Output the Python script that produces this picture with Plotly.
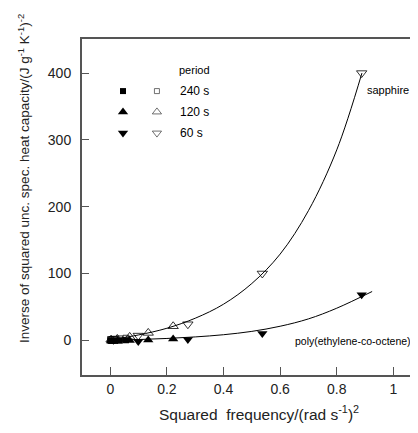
import plotly.graph_objects as go

# ---- data ----
x240 = [0.000685, 0.00617, 0.0171, 0.0336, 0.0555]
x120 = [0.00274, 0.0247, 0.0685, 0.134, 0.222]
x60 = [0.011, 0.0987, 0.274, 0.537, 0.888]

sapph240 = [1, 1, 1.5, 2, 3]
sapph120 = [1, 2, 5, 11, 21]
sapph60 = [1.5, 7, 24, 100, 400]

poly240 = [-1, -1, -1, -0.5, 0]
poly120 = [-1, -1, -0.5, 0.5, 2]
poly60 = [0, -2, 1, 10, 68]

# fitted curves
fit_sapph_x = [0, 0.1, 0.2, 0.3, 0.4, 0.5, 0.6, 0.7, 0.8, 0.889]
fit_sapph_y = [1, 8, 18, 33, 54, 85, 129, 194, 285, 400]
fit_poly_x = [0, 0.1, 0.2, 0.3, 0.4, 0.5, 0.6, 0.7, 0.8, 0.925]
fit_poly_y = [0, 1.1, 2.7, 5.0, 8.3, 13.3, 21, 32, 48, 73]

periods = ["240 s", "120 s", "60 s"]
filled_symbols = ["square", "triangle-up", "triangle-down"]
open_symbols = ["square-open", "triangle-up-open", "triangle-down-open"]

AXC = "#555555"
narrow = "Liberation Sans, Arial, sans-serif"
main = "Liberation Sans, Arial, sans-serif"

fig = go.Figure()

# curves
fig.add_trace(go.Scatter(x=fit_sapph_x, y=fit_sapph_y, mode="lines",
                         line=dict(color="black", width=1, shape="spline"),
                         showlegend=False, hoverinfo="skip"))
fig.add_trace(go.Scatter(x=fit_poly_x, y=fit_poly_y, mode="lines",
                         line=dict(color="black", width=1, shape="spline"),
                         showlegend=False, hoverinfo="skip"))

xs = [x240, x120, x60]
sap = [sapph240, sapph120, sapph60]
pol = [poly240, poly120, poly60]
for i in range(3):
    fsz = 6 if i == 0 else 9
    fig.add_trace(go.Scatter(x=xs[i], y=pol[i], mode="markers",
                             marker=dict(symbol=filled_symbols[i], size=fsz, color="black"),
                             showlegend=False))
    fig.add_trace(go.Scatter(x=xs[i], y=sap[i], mode="markers",
                             marker=dict(symbol=open_symbols[i], size=fsz, color="black",
                                         line=dict(width=0.8)),
                             showlegend=False))

# legend drawn on an overlay [0,1] axis
leg_y = [0.845, 0.783, 0.720]
for i in range(3):
    fsz = 6 if i == 0 else 9
    fig.add_trace(go.Scatter(x=[0.122], y=[leg_y[i]], xaxis="x2", yaxis="y2", mode="markers",
                             marker=dict(symbol=filled_symbols[i], size=fsz, color="black"),
                             showlegend=False, hoverinfo="skip"))
    fig.add_trace(go.Scatter(x=[0.223], y=[leg_y[i]], xaxis="x2", yaxis="y2", mode="markers",
                             marker=dict(symbol=open_symbols[i], size=fsz - 1, color="#333",
                                         line=dict(width=0.7)),
                             showlegend=False, hoverinfo="skip"))
    fig.add_annotation(xref="paper", yref="paper", x=0.286, y=leg_y[i], text=periods[i],
                       showarrow=False, xanchor="left", yanchor="middle",
                       font=dict(family=narrow, size=12, color="black"))

fig.add_annotation(xref="paper", yref="paper", x=0.336, y=0.908, text="period",
                   showarrow=False, xanchor="center", yanchor="middle",
                   font=dict(family=narrow, size=11, color="black"))
fig.add_annotation(xref="paper", yref="paper", x=0.842, y=0.848, text="sapphire",
                   showarrow=False, xanchor="left", yanchor="middle",
                   font=dict(family=narrow, size=11, color="black"))
fig.add_annotation(xref="paper", yref="paper", x=0.985, y=0.101,
                   text="poly(ethylene-co-octene)",
                   showarrow=False, xanchor="right", yanchor="middle",
                   font=dict(family=narrow, size=10.5, color="black"))

# axis titles
fig.add_annotation(xref="paper", yref="paper", x=-0.173, y=0.586,
                   text="Inverse of squared unc. spec. heat capacity/(J g<sup>-1</sup> K<sup>-1</sup>)<sup>-2</sup>",
                   showarrow=False, textangle=-90, xanchor="center", yanchor="middle",
                   font=dict(family=main, size=13.5, color="#222"))
fig.add_annotation(xref="paper", yref="paper", x=0.527, y=-0.113,
                   text="Squared  frequency/(rad s<sup>-1</sup>)<sup>2</sup>",
                   showarrow=False, xanchor="center", yanchor="middle",
                   font=dict(family=main, size=15.5, color="#222"))

# page body has an 8px margin, so the figure is 8px smaller and its margins 8px less
fig.update_layout(
    width=410, height=425,
    margin=dict(l=74, r=0, t=31, b=58),
    paper_bgcolor="white", plot_bgcolor="white",
    showlegend=False,
    xaxis=dict(range=[-0.1, 1.087], tickvals=[0, 0.2, 0.4, 0.6, 0.8, 1],
               ticktext=["0", "0.2", "0.4", "0.6", "0.8", "1"],
               ticks="inside", ticklen=8, tickcolor=AXC, tickwidth=1,
               showline=True, linecolor=AXC, linewidth=2, mirror=True,
               showgrid=False, zeroline=False,
               tickfont=dict(family=main, size=14, color="#222")),
    yaxis=dict(range=[-52, 451], tickvals=[0, 100, 200, 300, 400],
               ticks="inside", ticklen=7, tickcolor=AXC, tickwidth=1,
               showline=True, linecolor=AXC, linewidth=2,
               showgrid=False, zeroline=False, ticklabelstandoff=6,
               tickfont=dict(family=main, size=14, color="#222")),
    xaxis2=dict(range=[0, 1], overlaying="x", visible=False),
    yaxis2=dict(range=[0, 1], overlaying="y", visible=False),
)

fig.write_html("out.html")
